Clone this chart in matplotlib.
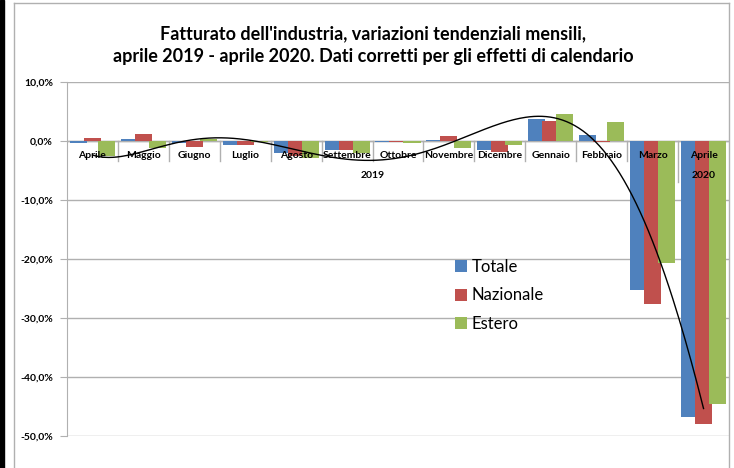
import matplotlib
matplotlib.use("Agg")
import matplotlib.pyplot as plt
import numpy as np
from matplotlib.lines import Line2D
from matplotlib.patches import Rectangle

plt.rcParams['font.family'] = ['Lato', 'DejaVu Sans']

# Dati (variazioni tendenziali %)
mesi = ['Aprile', 'Maggio', 'Giugno', 'Luglio', 'Agosto', 'Settembre', 'Ottobre',
        'Novembre', 'Dicembre', 'Gennaio', 'Febbraio', 'Marzo', 'Aprile']
totale = [-0.4, 0.3, -0.3, -0.6, -2.0, -1.6, -0.1, 0.2, -1.5, 3.8, 1.1, -25.2, -46.7]
nazionale = [0.5, 1.2, -1.0, -0.6, -2.5, -1.5, -0.2, 0.9, -1.9, 3.4, -0.2, -27.6, -48.0]
estero = [-2.6, -1.2, 0.3, -0.2, -2.9, -2.1, -0.3, -1.2, -0.6, 4.5, 3.2, -20.6, -44.5]
anni = ['2019', '2020']
titolo = ("Fatturato dell'industria, variazioni tendenziali mensili,\n"
          "aprile 2019 - aprile 2020. Dati corretti per gli effetti di calendario")

W, H = 734, 468
fig = plt.figure(figsize=(W / 100, H / 100), dpi=100)
fig.patch.set_facecolor('white')

# riquadro del grafico (stile Excel)
grigio = '#b0b0b0'
fig.add_artist(Line2D([13.5 / W, 13.5 / W], [0, 1 - 3 / H], color=grigio, lw=1))
fig.add_artist(Line2D([13.5 / W, 729 / W], [1 - 3 / H, 1 - 3 / H], color=grigio, lw=1))
fig.add_artist(Line2D([729 / W, 729 / W], [0, 1 - 3 / H], color=grigio, lw=1))
fig.add_artist(Rectangle((0, 0), 4 / W, 1, transform=fig.transFigure, color='black'))

ax = fig.add_axes([67 / W, (H - 436) / H, (729 - 67) / W, (436 - 82) / H])
ax.set_xlim(-0.5, len(mesi) - 0.5)
ax.set_ylim(-50, 10)

x = np.arange(len(mesi))
step = 0.275
bw = 0.335
colori = ['#4F81BD', '#C0504D', '#9BBB59']
for k, (serie, nome) in enumerate(zip([totale, nazionale, estero], ['Totale', 'Nazionale', 'Estero'])):
    ax.bar(x + (k - 1) * step, serie, width=bw, color=colori[k], label=nome, zorder=3)

# linea di tendenza polinomiale (grado 6) sulla serie Estero
coef = np.polyfit(x + 1, estero, 6)
xs = np.linspace(0, len(mesi) - 1, 300)
ax.plot(xs, np.polyval(coef, xs + 1), color='black', lw=1, zorder=5)

# griglia e assi
ax.set_yticks(np.arange(-50, 11, 10))
ax.set_yticklabels([f"{v:.1f}%".replace('.', ',') for v in np.arange(-50, 11, 10)],
                   fontsize=7.5, fontweight='bold')
ax.yaxis.grid(True, color=grigio, lw=1, zorder=0)
ax.set_axisbelow(True)
ax.tick_params(axis='y', length=5, color=grigio, pad=5)
ax.set_xticks([])
for s in ['top', 'right', 'bottom']:
    ax.spines[s].set_visible(False)
ax.spines['left'].set_color(grigio)
ax.axhline(0, color=grigio, lw=1, zorder=1)

# etichette categorie dentro l'area del grafico
for i, m in enumerate(mesi):
    ax.text(i, -2.5, m, ha='center', va='center', fontsize=7.5, fontweight='bold', zorder=6)
for i in range(len(mesi) - 1):
    basso = -7.0 if i == len(mesi) - 2 else -3.4
    ax.plot([i + 0.5, i + 0.5], [0, basso], color=grigio, lw=1, zorder=1)
ax.text((len(mesi) - 2) / 2, -5.9, anni[0], ha='center', va='center',
        fontsize=7.5, fontweight='bold', zorder=6)
ax.text(len(mesi) - 1, -5.9, anni[1], ha='center', va='center',
        fontsize=7.5, fontweight='bold', zorder=6)

fig.text(373 / W, 1 - 45 / H, titolo, ha='center', va='center', fontsize=13,
         fontweight='bold', linespacing=1.45)

ax.legend(loc='upper left', bbox_to_anchor=((455 - 67) / (729 - 67), (436 - 259) / (436 - 82)),
          frameon=False, fontsize=12, handlelength=0.7, handleheight=0.7,
          handletextpad=0.3, labelspacing=0.75, borderaxespad=0, borderpad=0)

fig.savefig('out.png', dpi=100)
